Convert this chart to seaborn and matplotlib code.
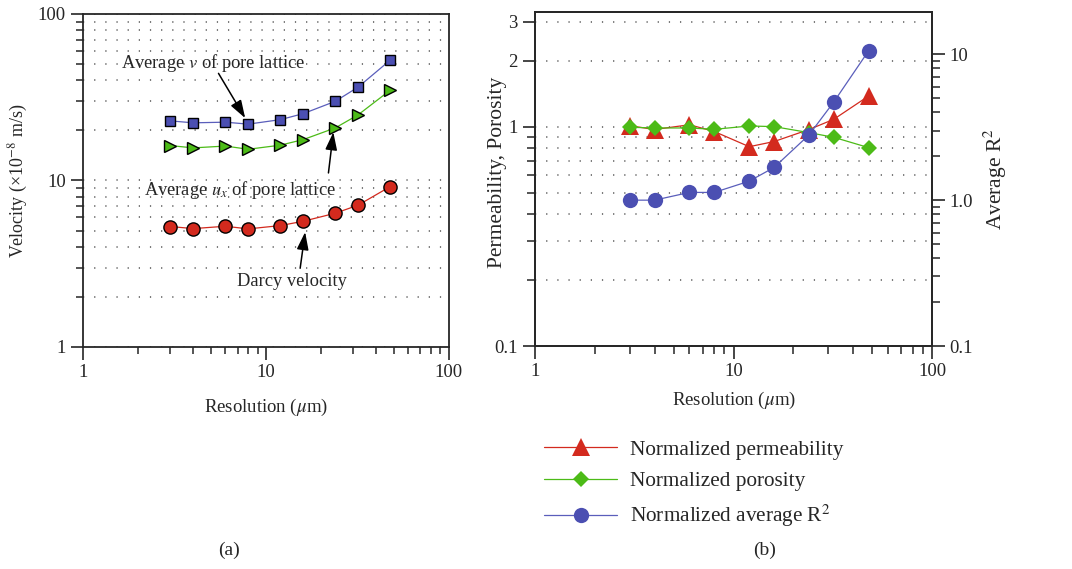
import numpy as np
import pandas as pd
import matplotlib
matplotlib.use("Agg")
import matplotlib.pyplot as plt
import seaborn as sns
from matplotlib.ticker import FixedLocator, NullFormatter, LogLocator

# ---------------- data ----------------
resolution = [3, 4, 6, 8, 12, 16, 24, 32, 48]
avg_v = [22.8, 22.2, 22.4, 21.8, 23.2, 25.2, 29.9, 36.4, 52.9]
avg_ux = [16.2, 15.7, 16.1, 15.4, 16.3, 17.6, 20.7, 24.8, 34.9]
darcy = [5.29, 5.14, 5.31, 5.12, 5.36, 5.69, 6.36, 7.11, 9.20]

norm_perm = [1.01, 0.97, 1.02, 0.95, 0.81, 0.855, 0.97, 1.08, 1.38]
norm_poro = [0.993, 0.986, 0.986, 0.972, 1.007, 1.0, 0.939, 0.894, 0.802]
avg_r2 = [1.0, 1.0, 1.13, 1.13, 1.35, 1.675, 2.8, 4.71, 10.6]

left_xticks = [1, 10, 100]
left_yticks = [1, 10, 100]
right_yticks = [0.1, 1, 2, 3]
right_yticklabels = ["0.1", "1", "2", "3"]
r2_ticks = [0.1, 1.0, 10]
r2_ticklabels = ["0.1", "1.0", "10"]

# ---------------- style ----------------
sns.set_theme(style="ticks")
plt.rcParams["font.family"] = ["Liberation Serif", "DejaVu Serif"]
plt.rcParams["mathtext.fontset"] = "stix"
plt.rcParams["axes.linewidth"] = 1.3
plt.rcParams["xtick.direction"] = "out"
plt.rcParams["ytick.direction"] = "out"

FS = 13
FS_RLAB = 15.5
BLUE = "#4b4fb2"
BLUE_L = "#5a5ebb"
GREEN = "#4cbb17"
RED = "#d32a1e"
GRID_KW = dict(color="#555555", linestyle=(0, (0.8, 6.5)), linewidth=1.1)

fig = plt.figure(figsize=(10.72, 5.69), dpi=100)
axL = fig.add_axes([0.0777, 0.3902, 0.3407, 0.5852])
axR = fig.add_axes([0.4991, 0.3919, 0.3703, 0.5870])

# ---------------- left panel ----------------
sns.lineplot(x=resolution, y=avg_v, ax=axL, color=BLUE_L, linewidth=0.9,
             marker="s", markersize=7.5, markerfacecolor=BLUE,
             markeredgecolor="black", markeredgewidth=1.0)
sns.lineplot(x=resolution, y=avg_ux, ax=axL, color=GREEN, linewidth=0.9,
             marker=">", markersize=9, markerfacecolor=GREEN,
             markeredgecolor="black", markeredgewidth=1.0)
sns.lineplot(x=resolution, y=darcy, ax=axL, color=RED, linewidth=0.9,
             marker="o", markersize=9.5, markerfacecolor=RED,
             markeredgecolor="black", markeredgewidth=1.0)

axL.set_xscale("log")
axL.set_yscale("log")
axL.set_xlim(1, 100)
axL.set_ylim(1, 100)
axL.set_xticks(left_xticks, labels=[str(t) for t in left_xticks])
axL.set_yticks(left_yticks, labels=[str(t) for t in left_yticks])
axL.xaxis.set_minor_locator(LogLocator(base=10, subs=np.arange(2, 10)))
axL.yaxis.set_minor_locator(LogLocator(base=10, subs=np.arange(2, 10)))
axL.xaxis.set_minor_formatter(NullFormatter())
axL.yaxis.set_minor_formatter(NullFormatter())
axL.tick_params(which="major", length=9, width=1.2, labelsize=FS + 0.5)
axL.tick_params(which="minor", length=5, width=1.1)
axL.tick_params(axis="x", which="both", top=False)
axL.tick_params(axis="y", which="both", right=False)
axL.yaxis.grid(True, which="both", **GRID_KW)
axL.set_axisbelow(True)
axL.set_xlabel(r"Resolution ($\mu$m)", fontsize=FS + 0.5)
axL.set_ylabel(r"Velocity (×10$^{-8}$ m/s)", fontsize=FS)
axL.xaxis.set_label_coords(0.5, -0.15)
axL.yaxis.set_label_coords(-0.146, 0.5)

ann_kw = dict(arrowstyle="-|>,head_length=0.9,head_width=0.3", color="black",
              linewidth=1.1, shrinkA=0, shrinkB=0)
axL.text(5.15, 50.8, r"Average $v$ of pore lattice", fontsize=FS + 0.3,
         ha="center", va="center")
axL.annotate("", xy=(7.7, 23.7), xytext=(5.5, 44.0), arrowprops=ann_kw)
axL.text(7.24, 8.75, r"Average $u_x$ of pore lattice", fontsize=FS + 0.3,
         ha="center", va="center")
axL.annotate("", xy=(23.4, 19.5), xytext=(22.0, 11.1), arrowprops=ann_kw)
axL.text(13.96, 2.48, "Darcy velocity", fontsize=FS + 0.3,
         ha="center", va="center")
axL.annotate("", xy=(16.4, 4.9), xytext=(15.4, 2.97), arrowprops=ann_kw)

# ---------------- right panel ----------------
sns.lineplot(x=resolution, y=norm_perm, ax=axR, color=RED, linewidth=0.9,
             marker="^", markersize=13, markerfacecolor=RED,
             markeredgecolor=RED, markeredgewidth=0,
             label="Normalized permeability")
sns.lineplot(x=resolution, y=norm_poro, ax=axR, color=GREEN, linewidth=0.9,
             marker="D", markersize=8, markerfacecolor=GREEN,
             markeredgecolor=GREEN, markeredgewidth=0,
             label="Normalized porosity")
axR.set_xscale("log")
axR.set_yscale("log")
axR.set_xlim(1, 100)
axR.set_ylim(0.1, 3.33)
axR.set_xticks(left_xticks, labels=[str(t) for t in left_xticks])
axR.xaxis.set_minor_locator(LogLocator(base=10, subs=np.arange(2, 10)))
axR.xaxis.set_minor_formatter(NullFormatter())
axR.yaxis.set_major_locator(FixedLocator(right_yticks))
axR.set_yticklabels(right_yticklabels)
axR.yaxis.set_minor_locator(FixedLocator([0.2, 0.3, 0.4, 0.5, 0.6, 0.7, 0.8, 0.9]))
axR.yaxis.set_minor_formatter(NullFormatter())
axR.tick_params(which="major", length=9, width=1.2, labelsize=FS + 0.5)
axR.tick_params(which="minor", length=6, width=1.1)
axR.tick_params(axis="x", which="both", top=False)
axR.tick_params(axis="y", which="both", right=False)
axR.yaxis.grid(True, which="both", **GRID_KW)
axR.set_axisbelow(True)
axR.set_xlabel(r"Resolution ($\mu$m)", fontsize=FS + 0.5)
axR.set_ylabel("Permeability, Porosity", fontsize=FS_RLAB)
axR.xaxis.set_label_coords(0.5, -0.13)
axR.yaxis.set_label_coords(-0.07, 0.52)

axR2 = axR.twinx()
sns.lineplot(x=resolution, y=avg_r2, ax=axR2, color=BLUE_L, linewidth=0.9,
             marker="o", markersize=11, markerfacecolor=BLUE,
             markeredgecolor=BLUE, markeredgewidth=0,
             label="Normalized average R$^2$")
axR2.set_yscale("log")
axR2.set_ylim(0.1, 19.5)
axR2.set_yticks(r2_ticks, labels=r2_ticklabels)
axR2.yaxis.set_minor_locator(LogLocator(base=10, subs=np.arange(2, 10)))
axR2.yaxis.set_minor_formatter(NullFormatter())
axR2.tick_params(which="major", length=9, width=1.2, labelsize=FS + 0.5)
axR2.tick_params(which="minor", length=6, width=1.1)
axR2.set_ylabel("Average R$^2$", fontsize=FS_RLAB)
axR2.yaxis.set_label_coords(1.126, 0.50)
for sp in axR2.spines.values():
    sp.set_linewidth(1.3)

h1, l1 = axR.get_legend_handles_labels()
h2, l2 = axR2.get_legend_handles_labels()
if axR.get_legend():
    axR.get_legend().remove()
if axR2.get_legend():
    axR2.get_legend().remove()
fig.legend(h1 + h2, l1 + l2, loc="upper left", bbox_to_anchor=(0.5075, 0.227),
           frameon=False, fontsize=15.3, handlelength=3.45, labelspacing=0.55,
           handletextpad=0.6, borderpad=0, borderaxespad=0)

fig.text(0.2136, 0.0334, "(a)", fontsize=FS + 1, ha="center", va="center")
fig.text(0.7136, 0.0334, "(b)", fontsize=FS + 1, ha="center", va="center")

fig.savefig("out.png", dpi=100)
